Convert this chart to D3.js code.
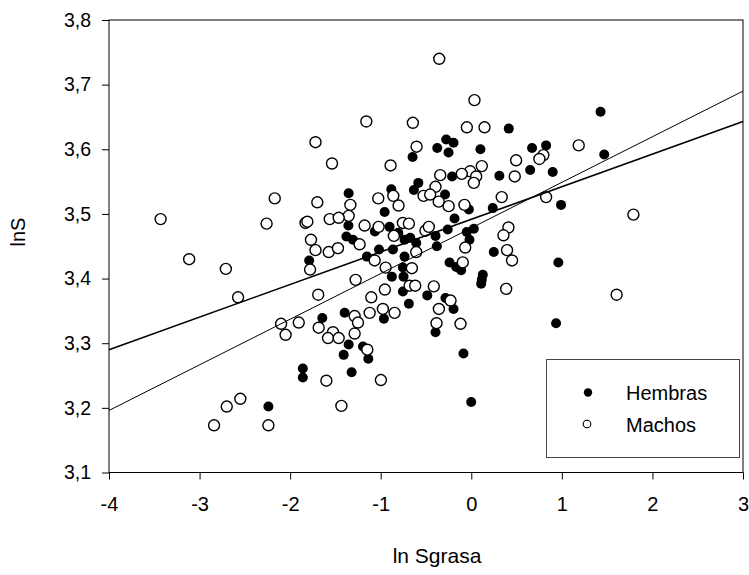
<!DOCTYPE html>
<html>
<head>
<meta charset="utf-8">
<script src="https://cdn.jsdelivr.net/npm/d3@7"></script>
<style>
  body { margin: 0; background: #fff; }
  svg { display: block; font-family: "Liberation Sans", Arial, sans-serif; }
</style>
</head>
<body>
<svg id="chart" width="749" height="575"></svg>
<script>
// Hembras (filled points): [ln Sgrasa, lnS]
const hembras = [
  [-1.79, 3.428], [-1.86, 3.261], [-1.86, 3.247], [-2.24, 3.202],
  [-0.648, 3.588], [-0.376, 3.602], [-0.277, 3.615], [-0.251, 3.595],
  [-1.354, 3.532], [-1.357, 3.482], [-1.379, 3.465], [-1.306, 3.460],
  [-0.957, 3.503], [-0.883, 3.538], [-1.064, 3.473], [-0.902, 3.480],
  [-0.806, 3.471], [-0.737, 3.460], [-0.674, 3.463], [-0.608, 3.455],
  [-1.019, 3.445], [-1.152, 3.434], [-0.865, 3.445], [-0.737, 3.434],
  [-0.755, 3.417], [-0.877, 3.403], [-0.748, 3.403], [-0.755, 3.380],
  [-0.689, 3.361], [-1.398, 3.347], [-1.645, 3.339], [-0.585, 3.548],
  [-0.634, 3.537], [-0.290, 3.530], [-0.395, 3.466], [-0.380, 3.450],
  [-0.260, 3.476], [-0.486, 3.374], [-0.285, 3.370], [-0.240, 3.425],
  [-1.354, 3.298], [-1.409, 3.282], [-1.196, 3.295], [-1.137, 3.276],
  [-1.321, 3.255], [-0.395, 3.317], [-0.965, 3.338],
  [-0.196, 3.610], [0.101, 3.600], [0.414, 3.632], [0.671, 3.602],
  [0.826, 3.606], [0.650, 3.568], [0.899, 3.565], [-0.212, 3.558],
  [0.310, 3.559], [0.991, 3.514], [0.237, 3.509],
  [-0.027, 3.507], [-0.185, 3.493], [-0.050, 3.472], [0.028, 3.477],
  [-0.020, 3.460], [0.248, 3.441], [0.961, 3.425], [-0.167, 3.418],
  [-0.112, 3.413], [0.127, 3.406], [0.116, 3.398], [0.109, 3.392],
  [-0.196, 3.353], [0.936, 3.331], [-0.086, 3.284], [-0.001, 3.209],
  [1.427, 3.658], [1.468, 3.592]
];

// Machos (open points)
const machos = [
  [-3.43, 3.492], [-3.115, 3.430], [-2.71, 3.415], [-2.575, 3.371],
  [-2.17, 3.524], [-2.26, 3.485], [-1.83, 3.486], [-1.81, 3.488],
  [-1.72, 3.611], [-1.70, 3.518], [-1.77, 3.460], [-1.72, 3.444],
  [-1.78, 3.414], [-1.69, 3.375], [-2.10, 3.330], [-2.05, 3.313],
  [-1.905, 3.332], [-2.55, 3.214], [-2.70, 3.202], [-2.84, 3.173],
  [-2.24, 3.173],
  [-0.354, 3.740], [-1.159, 3.643], [-0.645, 3.641], [-1.538, 3.578],
  [-0.891, 3.575], [-0.604, 3.604],
  [-1.335, 3.514], [-1.354, 3.497], [-1.563, 3.492], [-1.464, 3.494],
  [-1.233, 3.453], [-1.574, 3.441], [-1.472, 3.447], [-1.178, 3.482],
  [-1.027, 3.524], [-0.861, 3.528], [-0.803, 3.513], [-1.023, 3.480],
  [-0.855, 3.466], [-0.755, 3.486], [-0.689, 3.485], [-0.608, 3.441],
  [-1.067, 3.428], [-0.946, 3.417], [-0.656, 3.416], [-1.277, 3.398],
  [-0.681, 3.389], [-0.619, 3.389], [-0.954, 3.383], [-1.104, 3.371],
  [-0.976, 3.353], [-0.847, 3.347], [-1.288, 3.342], [-1.122, 3.347],
  [-0.343, 3.560], [-0.395, 3.542], [-0.527, 3.528], [-0.454, 3.530],
  [-0.360, 3.519], [-0.250, 3.512], [-0.506, 3.474], [-0.469, 3.480],
  [-0.414, 3.388], [-0.358, 3.353],
  [-1.685, 3.324], [-1.527, 3.317], [-1.582, 3.308], [-1.464, 3.308],
  [-1.288, 3.315], [-1.251, 3.332], [-1.148, 3.290], [-1.600, 3.242],
  [-0.998, 3.243], [-1.434, 3.203], [-0.384, 3.331],
  [0.035, 3.676], [-0.049, 3.634], [0.146, 3.634], [1.186, 3.606],
  [0.495, 3.583], [0.796, 3.591], [0.752, 3.585], [0.116, 3.574],
  [-0.012, 3.566], [0.054, 3.558], [-0.105, 3.562], [0.028, 3.548],
  [0.480, 3.558], [0.336, 3.526], [0.826, 3.526], [-0.075, 3.514],
  [0.410, 3.479], [0.355, 3.467], [-0.067, 3.448], [0.395, 3.444],
  [0.450, 3.428], [-0.094, 3.425], [0.385, 3.384], [-0.229, 3.366],
  [-0.119, 3.330], [1.790, 3.499], [1.605, 3.375]
];

// the two fitted lines, endpoints at x = -4 and x = 3
const fitX = [-4, 3];
const fitThickY = [3.290, 3.643];
const fitThinY = [3.196, 3.690];

const xTicks = [-4, -3, -2, -1, 0, 1, 2, 3];
const xTickLabels = ["-4", "-3", "-2", "-1", "0", "1", "2", "3"];
const yTicks = [3.1, 3.2, 3.3, 3.4, 3.5, 3.6, 3.7, 3.8];
const yTickLabels = ["3,1", "3,2", "3,3", "3,4", "3,5", "3,6", "3,7", "3,8"];

const legendNames = ["Hembras", "Machos"];

const svg = d3.select("#chart");
const plot = {left: 109, right: 743, top: 20, bottom: 472.5};

const x = d3.scaleLinear().domain([-4, 3]).range([plot.left, plot.right]);
const y = d3.scaleLinear().domain([3.1, 3.8]).range([plot.bottom, plot.top]);

// frame
svg.append("rect")
  .attr("x", plot.left).attr("y", plot.top)
  .attr("width", plot.right - plot.left).attr("height", plot.bottom - plot.top)
  .attr("fill", "none").attr("stroke", "#000").attr("stroke-width", 1);

const xAxis = g => g
  .attr("transform", `translate(0,${plot.bottom})`)
  .call(d3.axisBottom(x).tickValues(xTicks)
    .tickFormat((d, i) => xTickLabels[i])
    .tickSizeInner(7).tickSizeOuter(0).tickPadding(17))
  .call(g => g.select(".domain").remove())
  .call(g => g.selectAll("text").attr("font-size", 20).attr("fill", "#000"));

const yAxis = g => g
  .attr("transform", `translate(${plot.left},0)`)
  .call(d3.axisLeft(y).tickValues(yTicks)
    .tickFormat((d, i) => yTickLabels[i])
    .tickSizeInner(7).tickSizeOuter(0).tickPadding(11))
  .call(g => g.select(".domain").remove())
  .call(g => g.selectAll("text").attr("font-size", 19.5).attr("fill", "#000"));

svg.append("g").call(xAxis);
svg.append("g").call(yAxis);

// points
svg.append("g")
  .selectAll("circle")
  .data(hembras)
  .join("circle")
  .attr("cx", d => x(d[0]))
  .attr("cy", d => y(d[1]))
  .attr("r", 5)
  .attr("fill", "#000");

svg.append("g")
  .selectAll("circle")
  .data(machos)
  .join("circle")
  .attr("cx", d => x(d[0]))
  .attr("cy", d => y(d[1]))
  .attr("r", 5.5)
  .attr("fill", "#fff")
  .attr("stroke", "#000")
  .attr("stroke-width", 1.4);

// regression lines
const line = d3.line().x(d => x(d[0])).y(d => y(d[1]));

svg.append("path")
  .datum(fitX.map((v, i) => [v, fitThickY[i]]))
  .attr("fill", "none")
  .attr("stroke", "#000")
  .attr("stroke-width", 1.6)
  .attr("d", line);

svg.append("path")
  .datum(fitX.map((v, i) => [v, fitThinY[i]]))
  .attr("fill", "none")
  .attr("stroke", "#000")
  .attr("stroke-width", 1)
  .attr("d", line);

// legend
const legend = svg.append("g");
legend.append("rect")
  .attr("x", 546.5).attr("y", 359.5)
  .attr("width", 193).attr("height", 98)
  .attr("fill", "#fff").attr("stroke", "#444").attr("stroke-width", 1);

legend.append("circle")
  .attr("cx", 588).attr("cy", 392.5).attr("r", 4.2).attr("fill", "#000");
legend.append("circle")
  .attr("cx", 587).attr("cy", 424).attr("r", 3.8)
  .attr("fill", "#fff").attr("stroke", "#000").attr("stroke-width", 1.1);

legend.selectAll("text")
  .data(legendNames)
  .join("text")
  .attr("x", 626)
  .attr("y", (d, i) => 400 + i * 32)
  .attr("font-size", 20)
  .text(d => d);

// axis titles
svg.append("text")
  .attr("x", 437).attr("y", 563)
  .attr("text-anchor", "middle")
  .attr("font-size", 21)
  .text("ln Sgrasa");

svg.append("text")
  .attr("transform", "translate(25,232) rotate(-90)")
  .attr("text-anchor", "middle")
  .attr("font-size", 20)
  .text("lnS");
</script>
</body>
</html>
